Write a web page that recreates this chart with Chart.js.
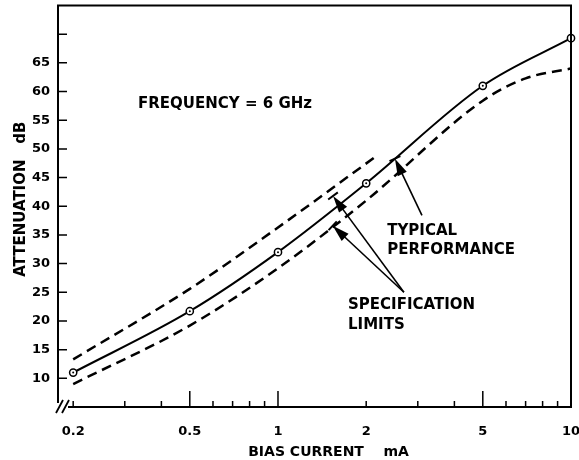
<!DOCTYPE html>
<html><head><meta charset="utf-8">
<script src="https://cdn.jsdelivr.net/npm/chart.js@4/dist/chart.umd.min.js"></script>
<style>html,body{margin:0;padding:0;background:#fff}canvas{display:block}</style>
</head><body>
<canvas id="c" width="579" height="460"></canvas>
<script>
// ---- data ----
const typicalX = [0.2, 0.5, 1, 2, 5, 10];
const typicalY = [11, 21.7, 32, 44, 61, 69.3];
const upperX = [0.2, 0.5, 1, 2.2];
const upperY = [13.3, 25.6, 36.3, 49.0];
const lowerX = [0.2, 0.5, 1, 2, 5, 7, 10];
const lowerY = [9.0, 19.2, 29.2, 41.0, 58.4, 62.3, 64.0];
const xTickLabels = [0.2, 0.5, 1, 2, 5, 10];
const xMinorTicks = [0.2, 0.3, 0.4, 0.6, 0.7, 0.8, 0.9, 2, 3, 4, 6, 7, 8, 9];
const xMajorTicks = [0.5, 1, 5];
const yTickLabels = [10, 15, 20, 25, 30, 35, 40, 45, 50, 55, 60, 65];
const yTickMarks = [10, 15, 20, 25, 30, 35, 40, 45, 50, 55, 60, 65, 70];
const xTitle = 'BIAS CURRENT    mA';
const yTitle = 'ATTENUATION   dB';
// annotations in data units
const notes = [
  {text: 'FREQUENCY = 6 GHz', x: 0.333, y: 57.8},
  {text: 'TYPICAL', x: 2.36, y: 35.7},
  {text: 'PERFORMANCE', x: 2.36, y: 32.3},
  {text: 'SPECIFICATION', x: 1.734, y: 22.7},
  {text: 'LIMITS', x: 1.734, y: 19.3}
];
const arrows = [
  {tailX: 3.10, tailY: 38.4, tipX: 2.507, tipY: 48.3},
  {tailX: 2.69, tailY: 25.0, tipX: 1.541, tipY: 41.8},
  {tailX: 2.69, tailY: 25.0, tipX: 1.537, tipY: 36.6}
];

const FONT = '"DejaVu Sans", sans-serif';
const pts = (xs, ys) => xs.map((x, i) => ({x, y: ys[i]}));

function drawArrow(ctx, x0, y0, x1, y1) {
  const dx = x1 - x0, dy = y1 - y0, L = Math.hypot(dx, dy), ux = dx / L, uy = dy / L;
  const hl = 17, hw = 5;
  ctx.lineWidth = 1.6;
  ctx.beginPath(); ctx.moveTo(x0, y0); ctx.lineTo(x1 - ux * hl * 0.6, y1 - uy * hl * 0.6); ctx.stroke();
  ctx.beginPath();
  ctx.moveTo(x1, y1);
  ctx.lineTo(x1 - ux * hl - uy * hw, y1 - uy * hl + ux * hw);
  ctx.lineTo(x1 - ux * hl + uy * hw, y1 - uy * hl - ux * hw);
  ctx.closePath(); ctx.fill();
  ctx.lineWidth = 2;
  ctx.beginPath(); ctx.moveTo(x1 - uy * 6, y1 + ux * 6); ctx.lineTo(x1 + uy * 6, y1 - ux * 6); ctx.stroke();
}

const decor = {
  id: 'decor',
  afterDatasetsDraw(chart) {
    const {ctx, chartArea: a, scales: {x, y}} = chart;
    ctx.save();
    ctx.strokeStyle = '#000'; ctx.fillStyle = '#000';
    // frame
    ctx.lineWidth = 2;
    ctx.beginPath();
    ctx.moveTo(a.left, a.bottom - 4);
    ctx.lineTo(a.left, a.top);
    ctx.lineTo(a.right, a.top);
    ctx.lineTo(a.right, a.bottom);
    ctx.lineTo(a.left + 10, a.bottom);
    ctx.stroke();
    // axis break
    ctx.lineWidth = 1.8;
    ctx.beginPath();
    ctx.moveTo(a.left - 2, a.bottom + 6); ctx.lineTo(a.left + 5, a.bottom - 7);
    ctx.moveTo(a.left + 4, a.bottom + 6); ctx.lineTo(a.left + 11, a.bottom - 7);
    ctx.stroke();
    // y tick marks (inward)
    ctx.lineWidth = 1.5;
    ctx.beginPath();
    yTickMarks.forEach(v => { const py = y.getPixelForValue(v); ctx.moveTo(a.left, py); ctx.lineTo(a.left + 9, py); });
    // x tick marks (inward)
    xMinorTicks.forEach(v => { const px = x.getPixelForValue(v); ctx.moveTo(px, a.bottom); ctx.lineTo(px, a.bottom - 6); });
    xMajorTicks.forEach(v => { const px = x.getPixelForValue(v); ctx.moveTo(px, a.bottom); ctx.lineTo(px, a.bottom - 16); });
    ctx.stroke();
    // center dots in markers
    chart.getDatasetMeta(0).data.forEach(p => { ctx.beginPath(); ctx.arc(p.x, p.y, 1, 0, Math.PI * 2); ctx.fill(); });
    // annotation texts
    ctx.font = 'bold 15px ' + FONT;
    ctx.textBaseline = 'middle'; ctx.textAlign = 'left';
    notes.forEach(n => ctx.fillText(n.text, x.getPixelForValue(n.x), y.getPixelForValue(n.y)));
    arrows.forEach(r => drawArrow(ctx, x.getPixelForValue(r.tailX), y.getPixelForValue(r.tailY), x.getPixelForValue(r.tipX), y.getPixelForValue(r.tipY)));
    // axis titles
    ctx.font = 'bold 14px ' + FONT;
    ctx.textAlign = 'center';
    ctx.fillText(xTitle, (a.left + a.right) / 2 + 14, a.bottom + 45);
    ctx.save();
    ctx.translate(21, (a.top + a.bottom) / 2 - 7);
    ctx.rotate(-Math.PI / 2);
    ctx.font = 'bold 15px ' + FONT;
    ctx.fillText(yTitle, 0, 0);
    ctx.restore();
    ctx.restore();
  }
};

new Chart(document.getElementById('c'), {
  type: 'line',
  data: {
    datasets: [
      {label: 'Typical', data: pts(typicalX, typicalY), borderColor: '#000', borderWidth: 2,
       pointRadius: 3.6, pointBorderWidth: 1.5, pointBackgroundColor: '#fff', pointBorderColor: '#000',
       cubicInterpolationMode: 'monotone', clip: false},
      {label: 'Upper limit', data: pts(upperX, upperY), borderColor: '#000', borderWidth: 2.5, borderDash: [10, 6],
       pointRadius: 0, cubicInterpolationMode: 'monotone', clip: false},
      {label: 'Lower limit', data: pts(lowerX, lowerY), borderColor: '#000', borderWidth: 2.5, borderDash: [10, 6],
       pointRadius: 0, cubicInterpolationMode: 'monotone', clip: false}
    ]
  },
  options: {
    responsive: false, animation: false, devicePixelRatio: 1,
    layout: {padding: {top: 4, right: 8, left: 0, bottom: 0}},
    plugins: {legend: {display: false}, tooltip: {enabled: false}},
    scales: {
      x: {type: 'logarithmic', min: 0.1775, max: 10,
          grid: {display: false, drawTicks: false}, border: {display: false},
          afterBuildTicks: s => { s.ticks = xTickLabels.map(v => ({value: v})); },
          afterFit: s => { s.height = 53; s.paddingLeft = 0; s.paddingRight = 0; },
          ticks: {color: '#000', font: {family: FONT, weight: 'bold', size: 13}, padding: 17,
                  maxRotation: 0, autoSkip: false, callback: v => String(v)}},
      y: {type: 'linear', min: 5, max: 75,
          grid: {display: false, drawTicks: false}, border: {display: false},
          afterBuildTicks: s => { s.ticks = yTickLabels.map(v => ({value: v})); },
          afterFit: s => { s.width = 58; s.paddingTop = 0; s.paddingBottom = 0; },
          ticks: {color: '#000', font: {family: FONT, weight: 'bold', size: 13}, padding: 8,
                  callback: v => String(v)}}
    }
  },
  plugins: [decor]
});
</script>
</body></html>
